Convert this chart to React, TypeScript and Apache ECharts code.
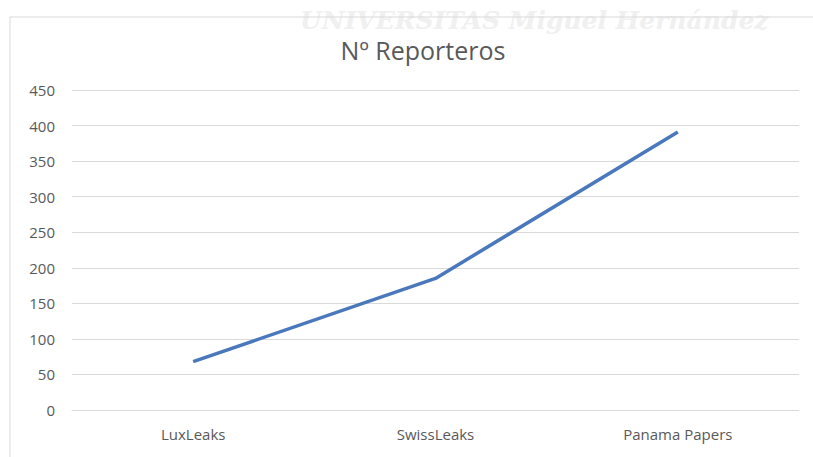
import React, { useEffect, useRef } from "react";
import * as echarts from "echarts";

const categories = ["LuxLeaks", "SwissLeaks", "Panama Papers"];
const reporters = [68, 185, 391];
const titleText = "Nº Reporteros";

export default function App() {
  const ref = useRef<HTMLDivElement>(null);
  useEffect(() => {
    if (!ref.current) return;
    const chart = echarts.init(ref.current, undefined, { renderer: "svg" });
    chart.setOption({
      animation: false,
      backgroundColor: "#ffffff",
      title: {
        text: titleText,
        left: 418,
        textAlign: "center",
        top: 32,
        textStyle: { fontFamily: "Open Sans", fontSize: 25, fontWeight: "normal", color: "#595959" },
      },
      graphic: [
        {
          type: "text",
          left: 300,
          top: 8,
          silent: true,
          z: -10,
          style: {
            text: "UNIVERSITAS Miguel Hernández",
            font: "italic bold 25px 'DejaVu Serif'",
            fill: "#f0f0f0",
          },
        },
        {
          type: "rect",
          shape: { x: 10, y: 17, width: 820, height: 460 },
          style: { fill: "none", stroke: "#d9d9d9", lineWidth: 1 },
          silent: true,
        },
      ],
      grid: { left: 72, right: 14, top: 90, bottom: 47 },
      xAxis: {
        type: "category",
        data: categories,
        boundaryGap: true,
        axisLine: { lineStyle: { color: "#d9d9d9", width: 1 } },
        axisTick: { show: false },
        axisLabel: { color: "#595959", fontFamily: "Open Sans", fontSize: 15, margin: 16 },
      },
      yAxis: {
        type: "value",
        min: 0,
        max: 450,
        interval: 50,
        axisLine: { show: false },
        axisTick: { show: false },
        splitLine: { lineStyle: { color: "#d9d9d9", width: 1 } },
        axisLabel: { color: "#595959", fontFamily: "Open Sans", fontSize: 15, margin: 17 },
      },
      series: [
        {
          type: "line",
          data: reporters,
          symbol: "none",
          lineStyle: { color: "#4a78bd", width: 3.5 },
        },
      ],
    });
    return () => chart.dispose();
  }, []);
  return (
    <div
      ref={ref}
      style={{ position: "fixed", left: 0, top: 0, width: 813, height: 457 }}
    />
  );
}
